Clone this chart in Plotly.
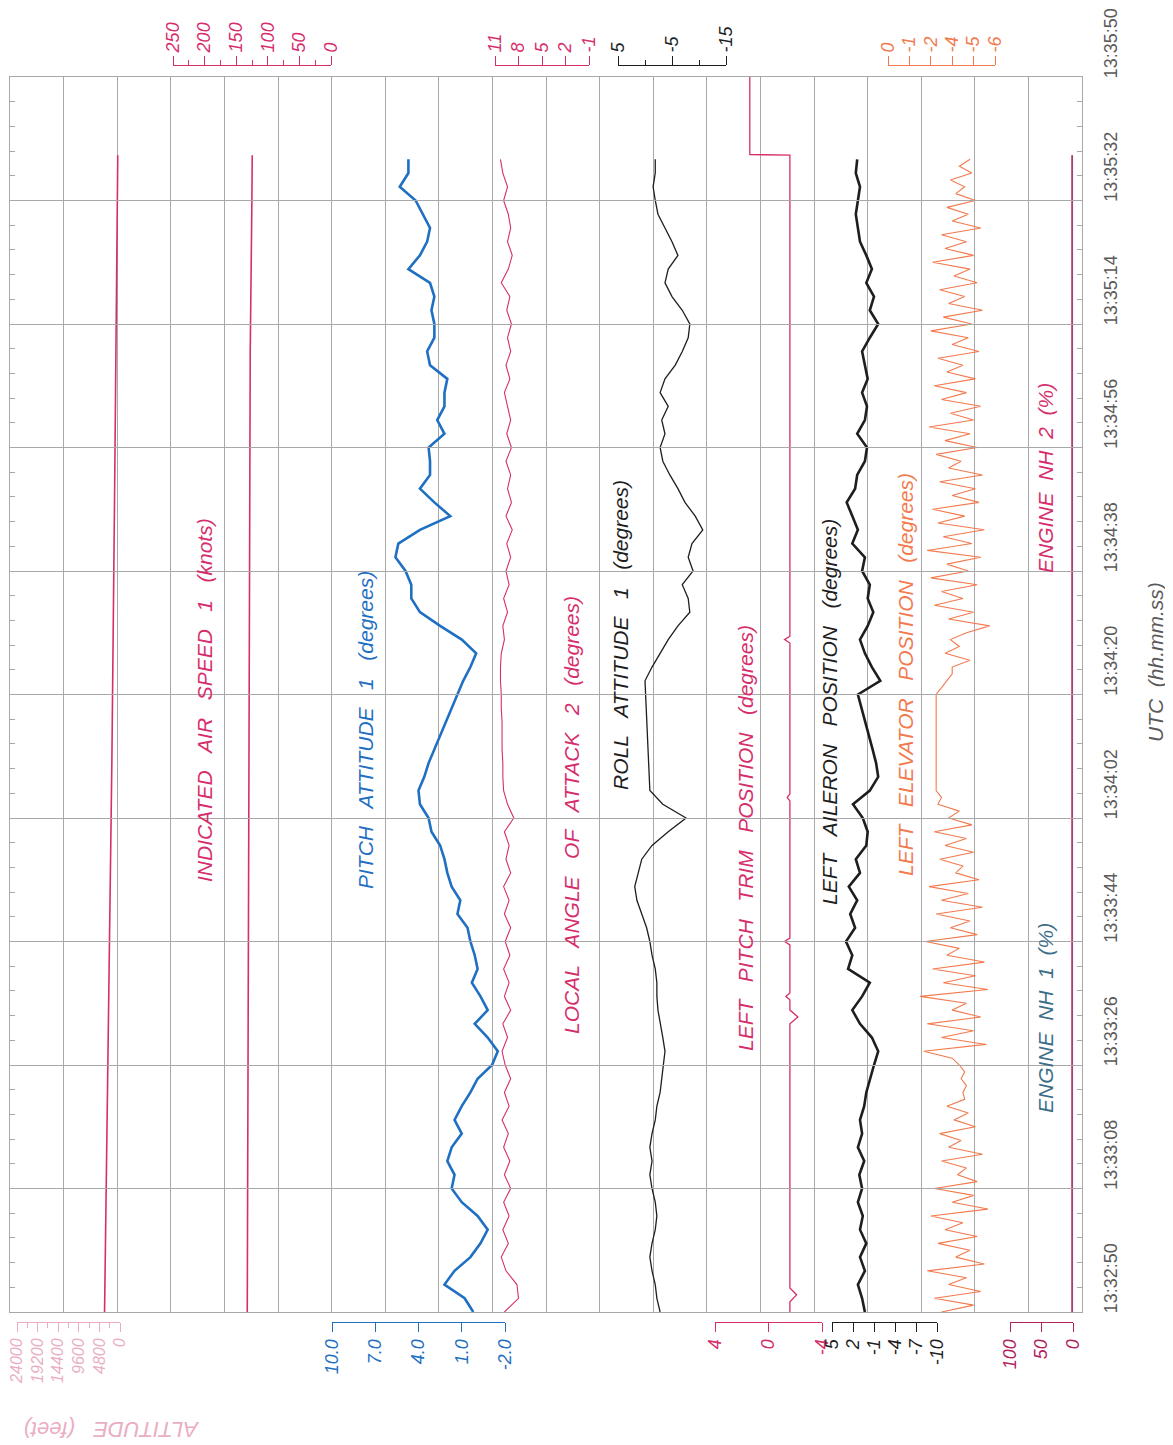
import plotly.graph_objects as go

# time is kept as seconds after 13:32:50 UTC
time_ticks = [0, 18, 36, 54, 72, 90, 108, 126, 144, 162, 180]
time_labels = ["13:32:50", "13:33:08", "13:33:26", "13:33:44", "13:34:02", "13:34:20",
               "13:34:38", "13:34:56", "13:35:14", "13:35:32", "13:35:50"]

# parameters sampled every 2 s (0 .. 168 s)
pitch = [0.2, 0.8, 2.2, 1.5, 0.4, -0.3, -0.8, -0.1, 1.0, 1.7,
         1.5, 2.0, 1.7, 1.0, 1.5, 1.0, 0.4, -0.1, -1.1, -1.5,
         -0.8, 0.1, -0.8, -0.3, 0.3, -0.1, 0.1, 0.4, 0.6, 1.3,
         1.1, 1.7, 2.0, 2.2, 2.5, 3.1, 3.3, 3.9, 4.0, 3.6,
         3.3, 2.9, 2.5, 2.1, 1.7, 1.3, 0.9, 0.4, 0.0, 1.0,
         2.5, 3.9, 4.5, 4.5, 4.9, 5.6, 5.4, 3.9, 1.8, 2.9,
         3.9, 3.2, 3.2, 3.3, 2.2, 2.7, 2.2, 2.2, 2.0, 3.2,
         3.4, 2.9, 2.9, 3.1, 2.9, 3.2, 4.7, 3.9, 3.4, 3.2,
         3.7, 4.2, 5.3, 4.7, 4.7]
aoa = [9.8, 8.0, 8.2, 9.6, 10.2, 9.3, 10.0, 9.2, 9.9, 9.0,
       9.8, 9.1, 9.9, 9.3, 10.1, 9.2, 9.8, 9.0, 9.7, 10.1,
       9.4, 10.0, 9.0, 9.8, 9.2, 9.9, 9.1, 9.7, 9.0, 9.8,
       9.2, 9.9, 9.0, 9.6, 9.2, 9.8, 8.6, 9.4, 9.9, 10.0,
       10.0, 10.1, 10.1, 10.1, 10.2, 10.2, 10.3, 10.3, 10.2, 9.8,
       10.0, 9.4, 9.9, 9.2, 9.6, 9.0, 9.5, 8.8, 9.6, 8.9,
       9.4, 9.0, 9.6, 8.9, 9.5, 9.0, 9.4, 9.8, 9.1, 9.6,
       9.0, 9.4, 8.9, 9.5, 9.1, 10.2, 9.3, 8.8, 9.4, 9.0,
       9.3, 9.9, 9.4, 10.0, 10.3]
roll = [-2.8, -2.2, -1.9, -1.3, -0.9, -1.3, -1.9, -2.2, -1.9, -1.3,
        -0.9, -1.3, -0.9, -1.3, -1.9, -2.2, -2.8, -3.1, -3.5, -3.7,
        -3.3, -2.8, -2.4, -2.2, -2.2, -1.9, -1.3, -0.9, -0.3, 0.6,
        1.5, 1.9, 1.3, 0.6, -1.3, -4.3, -7.6, -3.3, -0.9, -0.8,
        -0.7, -0.6, -0.5, -0.4, -0.3, -0.2, 0.0, -1.3, -2.8, -4.3,
        -6.1, -8.3, -8.0, -6.9, -8.9, -8.0, -8.7, -10.7, -9.3, -7.4,
        -6.1, -4.6, -3.3, -2.8, -3.7, -3.1, -4.3, -2.8, -3.7, -5.6,
        -6.9, -8.0, -8.3, -6.9, -5.0, -3.7, -4.3, -6.1, -5.0, -3.7,
        -2.4, -1.9, -1.5, -1.9, -1.9]
aileron = [0.3, 0.7, 1.3, 0.3, 1.0, 0.1, 1.0, 0.6, 1.3, 0.7,
           1.1, 0.4, 1.3, 0.7, 1.0, 0.4, 0.1, -0.4, -1.0, -1.6,
           -0.7, 1.0, 2.1, 0.7, -0.4, 2.7, 2.1, 3.0, 1.7, 2.4,
           1.4, 2.6, 1.0, 1.6, 0.1, -0.1, 0.6, 2.0, -0.4, -1.6,
           -1.3, -0.8, -0.3, 0.2, 0.8, 1.3, -1.9, -0.7, 0.3, 1.0,
           -0.1, -0.9, -0.1, -0.4, 0.7, 0.3, 2.1, 1.3, 2.1, 2.9,
           1.7, 1.4, 0.3, 0.0, 1.4, 0.3, 0.0, 0.7, -0.1, 0.3,
           0.7, -0.4, -1.6, -0.4, -1.0, 0.1, -0.7, 0.1, 1.0, 1.3,
           1.6, 1.3, 1.0, 1.6, 1.4]

# elevator sampled every 1 s (0 .. 168 s)
elevator = [-3.0, -4.8, -2.6, -5.2, -3.4, -4.4, -2.2, -5.4, -3.8, -4.6,
            -2.8, -5.0, -3.2, -4.2, -2.4, -5.6, -3.6, -4.8, -2.6, -5.0,
            -3.9, -4.4, -3.0, -5.3, -3.4, -4.1, -2.9, -4.9, -3.7, -4.5,
            -3.3, -4.3, -4.2, -4.4, -4.1, -4.3, -4.0, -3.6, -2.0, -5.5,
            -3.0, -4.8, -2.2, -5.2, -3.6, -4.4, -1.8, -5.6, -3.1, -4.9,
            -2.5, -5.4, -3.3, -4.0, -2.1, -5.0, -3.5, -4.6, -2.7, -5.3,
            -3.0, -4.5, -2.3, -5.1, -3.8, -4.2, -2.9, -4.8, -3.2, -4.4,
            -2.6, -4.7, -3.4, -4.0, -2.8, -3.0, -2.7, -2.7, -2.7, -2.7,
            -2.7, -2.7, -2.7, -2.7, -2.7, -2.7, -2.7, -2.7, -2.7, -2.7,
            -2.7, -3.0, -3.3, -3.6, -3.6, -4.6, -3.2, -4.0, -3.5, -4.4,
            -5.7, -3.4, -4.8, -2.6, -4.2, -3.0, -5.0, -2.4, -4.5, -3.3,
            -5.2, -2.2, -4.7, -3.1, -5.4, -2.8, -4.3, -2.5, -5.1, -3.6,
            -4.9, -2.9, -5.3, -3.4, -4.1, -2.7, -5.0, -3.2, -4.6, -2.3,
            -4.8, -3.5, -5.2, -3.0, -4.4, -2.6, -4.9, -3.3, -4.2, -2.8,
            -5.1, -3.6, -4.5, -2.4, -4.7, -3.1, -5.3, -3.4, -4.3, -2.9,
            -5.0, -3.7, -4.6, -2.5, -4.8, -3.2, -4.4, -3.0, -5.2, -3.6,
            -4.5, -3.3, -4.9, -3.8, -4.3, -3.5, -4.7, -4.0, -4.6]

# slow parameters with their own time stamps
altitude_t = [0, 40, 80, 120, 168.6]
altitude = [3600, 2700, 1900, 1250, 520]
ias_t = [0, 20, 40, 60, 80, 100, 120, 140, 160, 168.6]
ias = [132.5, 131.7, 130.9, 130.9, 130.1, 129.3, 128.5, 127.8, 125.4, 124.6]
trim_t = [0, 1.5, 2.5, 3.5, 42, 43, 44, 45.5, 46, 46.5, 53.5, 54, 54.5,
          74.5, 75, 75.5, 97.5, 98, 98.5, 168.6, 168.7, 180]
trim = [-1.6, -1.6, -2.1, -1.6, -1.6, -2.2, -1.6, -1.6, -1.3, -1.6, -1.6, -1.2, -1.6,
        -1.6, -1.4, -1.6, -1.6, -1.2, -1.6, -1.6, 1.4, 1.4]
nh_t = [0, 168.6]
nh1 = [1.0, 1.0]
nh2 = [1.6, 1.6]

MAGENTA = "#d62e6c"
BLUE = "#1f6fc2"
BLACK = "#1e1e1e"
ORANGE = "#f27a4e"
PINK = "#eaaec4"
TEAL = "#3d6e88"
GRID = "#a8a8a8"
FONT = "Liberation Sans, Arial, sans-serif"

# plotting area in page pixels (the page body adds an 8 px offset)
OFF = 8
PL, PR, PT, PB = 10, 1082, 40, 1350
T_TOP, T_BOT = 77, 1312
W, H = 1173 - OFF, 1445 - OFF


def fx(px):
    return (px - PL) / (PR - PL)


def fy(py):
    return (PB - py) / (PB - PT)


# scale: pixel extent of the printed scale and the values at its ends
scales = [
    dict(L=17, R=120, vL=24000, vR=0, side="bottom", color=PINK, size=16,
         tv=[24000, 19200, 14400, 9600, 4800, 0], tt=["24000", "19200", "14400", "9600", "4800", "0"],
         minor=[21600, 16800, 12000, 7200, 2400]),
    dict(L=173, R=331, vL=250, vR=0, side="top", color=MAGENTA, size=18,
         tv=[250, 200, 150, 100, 50, 0], tt=["250", "200", "150", "100", "50", "0"],
         minor=[225, 175, 125, 75, 25]),
    dict(L=332, R=505, vL=10, vR=-2, side="bottom", color=BLUE, size=18,
         tv=[10, 7, 4, 1, -2], tt=["10.0", "7.0", "4.0", "1.0", "-2.0"], minor=None),
    dict(L=495, R=589, vL=11, vR=-1, side="top", color=MAGENTA, size=18,
         tv=[11, 8, 5, 2, -1], tt=["11", "8", "5", "2", "-1"], minor=None),
    dict(L=618, R=726, vL=5, vR=-15, side="top", color=BLACK, size=18,
         tv=[5, -5, -15], tt=["5", "-5", "-15"], minor=[0, -10]),
    dict(L=715, R=822, vL=4, vR=-4, side="bottom", color=MAGENTA, size=18,
         tv=[4, 0, -4], tt=["4", "0", "-4"], minor=None),
    dict(L=832, R=937, vL=5, vR=-10, side="bottom", color=BLACK, size=18,
         tv=[5, 2, -1, -4, -7, -10], tt=["5", "2", "-1", "-4", "-7", "-10"], minor=None),
    dict(L=888, R=995, vL=0, vR=-6, side="top", color=ORANGE, size=18,
         tv=[0, -1.2, -2.4, -3.6, -4.8, -6], tt=["0", "-1", "-2", "-4", "-5", "-6"], minor=None),
    dict(L=1010, R=1073, vL=100, vR=0, side="bottom", color="#b0245e", size=18,
         tv=[100, 50, 0], tt=["100", "50", "0"], minor=None),
]

t2 = [2 * i for i in range(len(pitch))]
t1 = list(range(len(elevator)))

series = [
    (0, altitude_t, altitude, MAGENTA, 1.6),
    (1, ias_t, ias, MAGENTA, 1.6),
    (2, t2, pitch, BLUE, 2.6),
    (3, t2, aoa, MAGENTA, 1.1),
    (4, t2, roll, BLACK, 1.3),
    (5, trim_t, trim, MAGENTA, 1.3),
    (6, t2, aileron, BLACK, 2.6),
    (7, t1, elevator, ORANGE, 1.1),
    (8, nh_t, nh1, TEAL, 1.4),
    (8, nh_t, nh2, MAGENTA, 1.4),
]

fig = go.Figure()
fig.add_trace(go.Scatter(x=[None], y=[None], xaxis="x", yaxis="y", showlegend=False))

layout = {}
n = len(scales)
for i, s in enumerate(scales):
    data_id = 2 + i
    scale_id = 2 + n + i
    k = (s["vR"] - s["vL"]) / (s["R"] - s["L"])
    layout["xaxis%d" % data_id] = dict(
        overlaying="x", visible=False, automargin=False,
        range=[s["vL"] + (PL - s["L"]) * k, s["vL"] + (PR - s["L"]) * k],
    )
    pos = fy(65) if s["side"] == "top" else fy(1322)
    ax = dict(
        domain=[fx(s["L"]), fx(s["R"])], range=[s["vL"], s["vR"]],
        anchor="free", position=pos, side=s["side"], automargin=False,
        showline=True, linecolor=s["color"], linewidth=1,
        ticks="outside", ticklen=9, tickcolor=s["color"],
        tickmode="array", tickvals=s["tv"], ticktext=s["tt"], tickangle=-90,
        ticklabeloverflow="allow",
        tickfont=dict(family=FONT, size=s["size"], color=s["color"], style="italic"),
        showgrid=False, zeroline=False,
    )
    if s["minor"]:
        ax["minor"] = dict(tickmode="array", tickvals=s["minor"], ticks="outside",
                           ticklen=5, tickcolor=s["color"])
    layout["xaxis%d" % scale_id] = ax
    fig.add_trace(go.Scatter(x=[None], y=[None], xaxis="x%d" % scale_id, yaxis="y",
                             showlegend=False, hoverinfo="skip"))

for idx, tt, vals, color, width in series:
    fig.add_trace(go.Scatter(x=vals, y=tt, mode="lines", xaxis="x%d" % (2 + idx), yaxis="y",
                             line=dict(color=color, width=width), showlegend=False))

layout["xaxis"] = dict(
    domain=[0, 1], range=[0, 20], tickmode="linear", tick0=0, dtick=1, automargin=False,
    showgrid=True, gridcolor=GRID, gridwidth=1, showline=True, mirror=True,
    linecolor=GRID, showticklabels=False, ticks="", zeroline=False,
)
layout["yaxis"] = dict(
    domain=[fy(T_BOT), fy(T_TOP)], range=[0, 180], side="right", automargin=False,
    tickmode="array", tickvals=time_ticks, ticktext=time_labels, tickangle=-90,
    ticklabelshift=-31, ticklabelstandoff=12, ticklabeloverflow="allow",
    tickfont=dict(family=FONT, size=18, color="#5a5a5a"),
    ticks="inside", ticklen=6, tickcolor=GRID,
    minor=dict(dtick=3.6, tick0=0, ticks="inside", ticklen=5, tickcolor=GRID),
    showgrid=True, gridcolor=GRID, gridwidth=1, showline=True, mirror="ticks",
    linecolor=GRID, zeroline=False,
)

SP = "\u00a0\u00a0\u00a0"
SP2 = "\u00a0\u00a0"
labels = [
    (SP.join(["INDICATED", "AIR", "SPEED", "1", "(knots)"]), 205, 700, MAGENTA),
    (SP.join(["PITCH", "ATTITUDE", "1", "(degrees)"]), 365, 730, BLUE),
    (SP.join(["LOCAL", "ANGLE", "OF", "ATTACK", "2", "(degrees)"]), 572, 815, MAGENTA),
    (SP.join(["ROLL", "ATTITUDE", "1", "(degrees)"]), 620, 635, BLACK),
    (SP.join(["LEFT", "PITCH", "TRIM", "POSITION", "(degrees)"]), 745, 838, MAGENTA),
    (SP.join(["LEFT", "AILERON", "POSITION", "(degrees)"]), 830, 712, BLACK),
    (SP.join(["LEFT", "ELEVATOR", "POSITION", "(degrees)"]), 905, 675, ORANGE),
    (SP2.join(["ENGINE", "NH", "1", "(%)"]), 1045, 1018, TEAL),
    (SP2.join(["ENGINE", "NH", "2", "(%)"]), 1045, 478, MAGENTA),
    (SP2.join(["UTC", "(hh.mm.ss)"]), 1155, 662, "#5a5a5a"),
]
annotations = []
for text, px, py, color in labels:
    annotations.append(dict(
        text=text, x=fx(px), y=fy(py), xref="paper", yref="paper",
        textangle=-90, showarrow=False, xanchor="center", yanchor="middle",
        font=dict(family=FONT, size=21, color=color, style="italic"),
    ))
annotations.append(dict(
    text="ALTITUDE\u00a0\u00a0\u00a0(feet)", x=fx(112), y=fy(1430), xref="paper", yref="paper",
    textangle=180, showarrow=False, xanchor="center", yanchor="middle",
    font=dict(family=FONT, size=22, color=PINK, style="italic"),
))

fig.update_layout(
    template="none",
    width=W, height=H,
    margin=dict(l=PL - OFF, r=W - (PR - OFF), t=PT - OFF, b=H - (PB - OFF)),
    paper_bgcolor="white", plot_bgcolor="rgba(0,0,0,0)",
    annotations=annotations, showlegend=False,
    **layout,
)

fig.write_html("out.html")
